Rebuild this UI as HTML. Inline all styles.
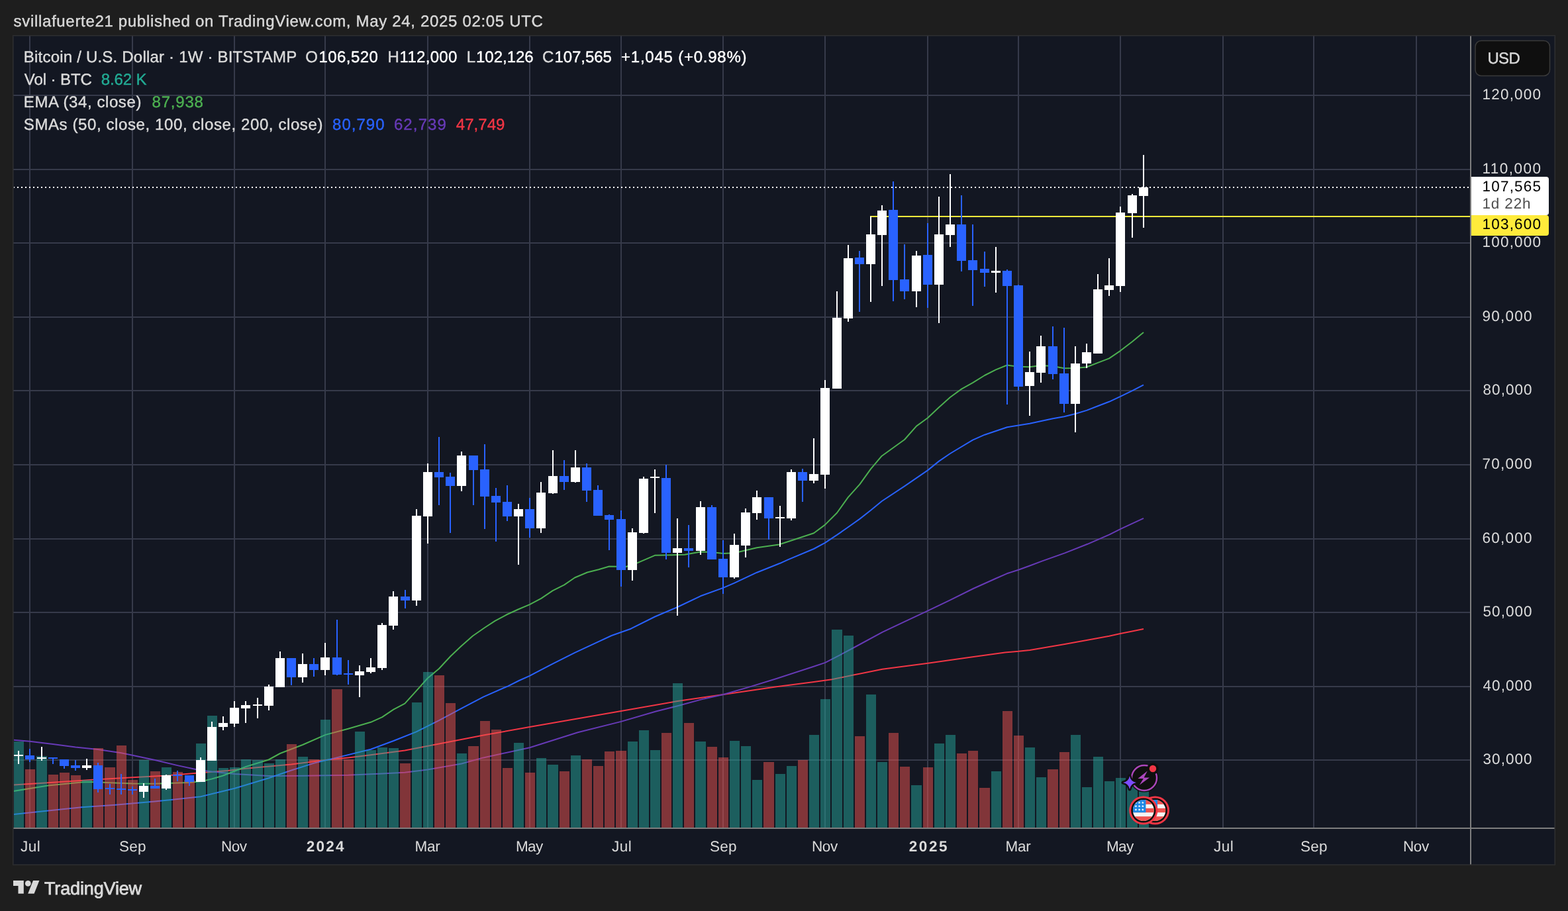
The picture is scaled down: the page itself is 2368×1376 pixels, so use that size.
<!DOCTYPE html>
<html lang="en"><head><meta charset="utf-8"><title>BTCUSD 1W chart — TradingView</title>
<style>
html,body{margin:0;padding:0;background:#1e1e1e;width:2368px;height:1376px;overflow:hidden}
svg{display:block;font-family:"Liberation Sans",Arial,sans-serif}
text{white-space:pre}
</style></head><body>
<svg width="2368" height="1376" viewBox="0 0 2368 1376" shape-rendering="crispEdges">
<defs><clipPath id="cp"><rect x="21" y="55" width="2199" height="1195"/></clipPath>
<clipPath id="f1"><circle cx="1726.8" cy="1224" r="16"/></clipPath>
<clipPath id="f2"><circle cx="1744.4" cy="1224" r="16"/></clipPath></defs>
<rect width="2368" height="1376" fill="#1e1e1e"/>
<rect x="19" y="53" width="2330" height="1254" fill="#2e2e30"/>
<rect x="20" y="54" width="2328" height="1252" fill="#131722"/>
<path d="M44 54h2v1196h-2zM199 54h2v1196h-2zM353 54h2v1196h-2zM490 54h2v1196h-2zM645 54h2v1196h-2zM799 54h2v1196h-2zM937 54h2v1196h-2zM1091 54h2v1196h-2zM1245 54h2v1196h-2zM1400 54h2v1196h-2zM1537 54h2v1196h-2zM1691 54h2v1196h-2zM1846 54h2v1196h-2zM1983 54h2v1196h-2zM2138 54h2v1196h-2zM20 143h2200v2h-2200zM20 255h2200v2h-2200zM20 366h2200v2h-2200zM20 478h2200v2h-2200zM20 589h2200v2h-2200zM20 701h2200v2h-2200zM20 813h2200v2h-2200zM20 924h2200v2h-2200zM20 1036h2200v2h-2200zM20 1147h2200v2h-2200z" fill="#363a4a"/>
<g clip-path="url(#cp)" shape-rendering="geometricPrecision">
<polyline points="19.6,1185.5 72.7,1182.3 148.0,1177.2 200.0,1174.3 251.0,1171.4 296.5,1167.7 344.0,1164.1 371.4,1160.8 440.0,1154.4 491.5,1148.0 525.8,1144.4 560.0,1140.2 611.4,1133.5 663.0,1123.5 730.0,1110.4 799.9,1098.1 938.0,1074.1 1023.3,1059.0 1092.4,1049.0 1130.0,1043.6 1172.7,1037.2 1227.2,1030.3 1256.2,1026.3 1288.9,1019.6 1332.5,1010.8 1401.5,1001.8 1463.3,993.0 1517.8,985.4 1538.0,983.8 1555.2,982.0 1607.9,972.9 1642.4,966.7 1675.1,960.7 1692.0,957.1 1709.7,953.5 1727.0,950.1" fill="none" stroke="#f23645" stroke-width="2" stroke-linejoin="round"/>
<polyline points="19.6,1117.6 45.0,1119.8 80.0,1124.1 114.0,1128.5 148.0,1132.1 183.0,1137.2 200.0,1140.8 234.0,1148.1 268.0,1156.1 296.5,1162.2 320.0,1165.6 354.5,1168.9 405.7,1172.0 457.0,1171.7 525.8,1170.8 577.2,1168.6 611.4,1166.8 645.7,1162.6 697.1,1153.5 730.0,1144.4 799.9,1129.3 872.6,1106.3 938.0,1089.9 990.6,1074.5 1023.3,1066.3 1063.3,1055.4 1092.4,1049.0 1130.0,1038.1 1172.7,1025.0 1227.2,1007.2 1246.2,1000.9 1272.6,987.2 1288.9,978.5 1332.5,954.9 1366.3,938.9 1401.0,922.6 1435.4,906.2 1469.9,889.0 1504.4,873.5 1520.7,866.3 1538.0,860.8 1555.2,854.5 1573.4,847.6 1607.9,835.4 1642.4,821.8 1675.1,807.6 1692.0,799.1 1709.7,790.9 1727.0,782.8" fill="none" stroke="#673ab7" stroke-width="2" stroke-linejoin="round"/>
<polyline points="19.6,1230.2 72.7,1224.4 123.5,1219.3 174.4,1215.7 234.0,1210.6 303.0,1203.3 354.5,1190.7 405.7,1175.3 440.0,1163.5 474.4,1152.6 508.5,1144.4 560.0,1131.7 594.3,1119.0 628.6,1105.4 663.0,1088.1 697.1,1069.9 730.0,1052.7 767.2,1036.3 783.8,1028.0 799.8,1020.8 834.7,1002.6 868.0,985.9 904.0,969.2 923.6,960.0 952.7,949.7 989.0,931.5 1023.0,917.0 1058.0,900.3 1092.2,887.9 1109.0,880.6 1143.0,864.7 1178.0,850.8 1190.0,845.4 1229.0,829.0 1246.0,819.8 1264.1,807.9 1280.8,796.3 1298.3,783.9 1315.0,770.8 1331.7,757.0 1366.0,734.4 1401.0,710.4 1418.0,696.6 1435.0,685.0 1469.0,664.7 1487.0,656.7 1521.0,645.3 1555.0,639.8 1590.0,632.2 1607.0,629.3 1624.0,625.0 1641.0,619.9 1658.0,613.3 1675.0,606.8 1692.0,598.8 1710.0,590.1 1727.0,581.4" fill="none" stroke="#2962ff" stroke-width="2" stroke-linejoin="round"/>
<polyline points="19.6,1195.1 72.7,1186.6 123.5,1181.5 138.0,1181.1 166.1,1182.3 200.1,1183.4 234.0,1183.7 285.9,1182.0 305.2,1180.1 320.0,1176.5 336.3,1171.7 371.4,1158.0 405.7,1147.5 423.0,1138.0 457.0,1125.0 491.5,1109.9 525.8,1100.8 560.0,1090.8 577.2,1083.2 594.3,1071.7 611.4,1062.7 628.6,1043.6 645.7,1024.5 663.0,1010.0 680.6,991.0 697.0,975.5 714.0,960.5 732.0,948.0 747.5,937.9 766.0,928.0 782.4,920.5 799.8,913.2 817.3,903.8 834.7,892.2 852.2,883.4 868.0,872.5 887.0,864.5 904.0,860.2 920.0,855.5 945.4,856.0 962.8,850.1 989.0,838.8 1034.0,837.8 1058.0,833.4 1075.0,834.1 1092.2,835.9 1109.0,835.3 1126.0,831.2 1143.0,827.2 1176.5,822.5 1195.0,816.5 1229.0,805.3 1246.0,792.6 1264.1,774.5 1280.8,751.2 1298.3,731.6 1315.0,708.3 1331.7,688.7 1349.0,676.3 1366.0,664.0 1384.0,643.6 1401.0,631.2 1418.0,615.2 1435.0,600.0 1452.0,587.6 1469.0,578.2 1487.0,567.0 1504.0,558.4 1521.0,551.5 1538.0,553.8 1555.0,554.2 1572.0,551.9 1590.0,553.0 1607.0,556.2 1624.0,555.9 1641.0,554.5 1658.0,547.9 1675.0,541.4 1692.0,529.8 1710.0,516.0 1727.0,501.9" fill="none" stroke="#4caf50" stroke-width="2" stroke-linejoin="round"/>
</g>
<path d="M21 1120h15V1250h-15zM55 1142h16V1250h-16zM124 1178h15V1250h-15zM210 1148h15V1250h-15zM244 1159h15V1250h-15zM296 1123h15V1250h-15zM313 1081h15V1250h-15zM330 1160h15V1250h-15zM347 1159h15V1250h-15zM364 1147h15V1250h-15zM381 1148h16V1250h-16zM399 1153h15V1250h-15zM416 1147h15V1250h-15zM450 1143h15V1250h-15zM484 1087h15V1250h-15zM536 1105h15V1250h-15zM553 1133h15V1250h-15zM570 1129h15V1250h-15zM587 1130h15V1250h-15zM622 1061h15V1250h-15zM639 1015h15V1250h-15zM690 1138h15V1250h-15zM776 1122h15V1250h-15zM810 1145h15V1250h-15zM827 1155h16V1250h-16zM862 1141h15V1250h-15zM948 1120h15V1250h-15zM965 1103h15V1250h-15zM982 1133h15V1250h-15zM1016 1032h15V1250h-15zM1050 1120h16V1250h-16zM1102 1119h15V1250h-15zM1119 1127h15V1250h-15zM1136 1178h15V1250h-15zM1171 1169h15V1250h-15zM1188 1157h15V1250h-15zM1222 1110h15V1250h-15zM1239 1056h15V1250h-15zM1256 951h16V1250h-16zM1274 960h15V1250h-15zM1308 1049h15V1250h-15zM1325 1151h15V1250h-15zM1376 1186h16V1250h-16zM1411 1123h15V1250h-15zM1428 1110h15V1250h-15zM1497 1165h15V1250h-15zM1548 1129h15V1250h-15zM1565 1174h15V1250h-15zM1617 1110h15V1250h-15zM1634 1189h15V1250h-15zM1651 1143h15V1250h-15zM1668 1180h15V1250h-15zM1685 1175h15V1250h-15zM1702 1186h16V1250h-16zM1720 1192h15V1250h-15z" fill="#26a69a" fill-opacity=".5"/>
<path d="M38 1162h15V1250h-15zM73 1170h15V1250h-15zM90 1167h15V1250h-15zM107 1171h15V1250h-15zM141 1130h15V1250h-15zM158 1159h16V1250h-16zM176 1126h15V1250h-15zM193 1178h15V1250h-15zM227 1165h15V1250h-15zM261 1166h15V1250h-15zM278 1178h16V1250h-16zM433 1124h15V1250h-15zM467 1147h15V1250h-15zM501 1041h16V1250h-16zM519 1147h15V1250h-15zM604 1153h16V1250h-16zM656 1020h15V1250h-15zM673 1062h15V1250h-15zM707 1127h16V1250h-16zM725 1089h15V1250h-15zM742 1102h15V1250h-15zM759 1160h15V1250h-15zM793 1167h15V1250h-15zM845 1165h15V1250h-15zM879 1147h15V1250h-15zM896 1157h15V1250h-15zM913 1135h15V1250h-15zM930 1134h16V1250h-16zM999 1107h15V1250h-15zM1033 1092h15V1250h-15zM1068 1128h15V1250h-15zM1085 1144h15V1250h-15zM1153 1151h16V1250h-16zM1205 1148h15V1250h-15zM1291 1112h15V1250h-15zM1342 1107h15V1250h-15zM1359 1158h15V1250h-15zM1394 1159h15V1250h-15zM1445 1138h15V1250h-15zM1462 1134h15V1250h-15zM1479 1190h16V1250h-16zM1514 1074h15V1250h-15zM1531 1111h15V1250h-15zM1582 1162h16V1250h-16zM1600 1136h15V1250h-15z" fill="#ef5350" fill-opacity=".5"/>
<rect x="1314" y="326" width="906" height="2" fill="#ffeb3b"/>
<path d="M44 1131h2V1151h-2zM38 1141h14V1147h-14zM79 1144h2V1154h-2zM73 1144h14V1146h-14zM96 1147h2V1161h-2zM90 1147h14V1157h-14zM113 1148h2V1164h-2zM107 1156h14V1160h-14zM147 1152h2V1197h-2zM141 1156h14V1192h-14zM165 1184h2V1200h-2zM159 1190h14V1192h-14zM182 1169h2V1200h-2zM176 1191h14V1193h-14zM199 1188h2V1200h-2zM193 1192h14V1194h-14zM233 1176h2V1191h-2zM227 1187h14V1191h-14zM267 1164h2V1180h-2zM261 1170h14V1172h-14zM285 1171h2V1187h-2zM279 1171h14V1181h-14zM439 994h2V1035h-2zM433 994h14V1023h-14zM473 994h2V1022h-2zM467 1003h14V1012h-14zM508 936h2V1020h-2zM502 993h14V1019h-14zM525 997h2V1034h-2zM519 1017h14V1019h-14zM611 891h2V919h-2zM605 901h14V907h-14zM662 660h2V763h-2zM656 713h14V721h-14zM679 714h2V805h-2zM673 720h14V734h-14zM714 688h2V763h-2zM708 688h14V710h-14zM731 671h2V799h-2zM725 709h14V750h-14zM748 737h2V818h-2zM742 749h14V759h-14zM765 733h2V787h-2zM759 758h14V780h-14zM799 752h2V812h-2zM793 769h14V798h-14zM851 695h2V740h-2zM845 719h14V728h-14zM885 700h2V758h-2zM879 706h14V741h-14zM902 733h2V779h-2zM896 740h14V779h-14zM919 777h2V831h-2zM913 778h14V785h-14zM937 771h2V886h-2zM931 784h14V861h-14zM1005 702h2V845h-2zM999 722h14V835h-14zM1039 793h2V857h-2zM1033 828h14V832h-14zM1074 763h2V845h-2zM1068 766h14V845h-14zM1091 816h2V897h-2zM1085 844h14V872h-14zM1160 751h2V815h-2zM1154 751h14V783h-14zM1211 708h2V758h-2zM1205 713h14V726h-14zM1297 379h2V471h-2zM1291 389h14V399h-14zM1348 274h2V455h-2zM1342 317h14V423h-14zM1365 369h2V452h-2zM1359 422h14V440h-14zM1400 337h2V465h-2zM1394 385h14V430h-14zM1451 295h2V410h-2zM1445 339h14V394h-14zM1468 339h2V462h-2zM1462 393h14V408h-14zM1486 380h2V433h-2zM1480 406h14V412h-14zM1520 407h2V611h-2zM1514 409h14V432h-14zM1537 430h2V590h-2zM1531 431h14V584h-14zM1589 493h2V573h-2zM1583 523h14V565h-14zM1606 495h2V623h-2zM1600 564h14V610h-14z" fill="#2962ff"/>
<path d="M27 1134h2V1154h-2zM21 1140h14V1142h-14zM62 1128h2V1149h-2zM56 1144h14V1146h-14zM130 1146h2V1163h-2zM124 1156h14V1160h-14zM216 1183h2V1205h-2zM210 1187h14V1196h-14zM250 1170h2V1193h-2zM244 1171h14V1191h-14zM302 1144h2V1181h-2zM296 1148h14V1181h-14zM319 1090h2V1149h-2zM313 1098h14V1149h-14zM336 1082h2V1103h-2zM330 1092h14V1098h-14zM353 1059h2V1098h-2zM347 1069h14V1093h-14zM370 1059h2V1092h-2zM364 1065h14V1070h-14zM388 1054h2V1085h-2zM382 1064h14V1066h-14zM405 1034h2V1073h-2zM399 1037h14V1066h-14zM422 984h2V1038h-2zM416 994h14V1038h-14zM456 987h2V1031h-2zM450 1003h14V1023h-14zM490 971h2V1020h-2zM484 993h14V1012h-14zM542 1005h2V1053h-2zM536 1014h14V1020h-14zM559 994h2V1017h-2zM553 1008h14V1015h-14zM576 941h2V1012h-2zM570 944h14V1009h-14zM593 893h2V951h-2zM587 901h14V945h-14zM628 769h2V915h-2zM622 779h14V907h-14zM645 700h2V821h-2zM639 713h14V780h-14zM696 682h2V742h-2zM690 688h14V734h-14zM782 761h2V853h-2zM776 769h14V780h-14zM816 728h2V805h-2zM810 744h14V798h-14zM834 680h2V746h-2zM828 719h14V745h-14zM868 680h2V729h-2zM862 706h14V728h-14zM954 798h2V877h-2zM948 804h14V861h-14zM971 720h2V806h-2zM965 723h14V805h-14zM988 709h2V775h-2zM982 720h14V722h-14zM1022 783h2V930h-2zM1016 828h14V835h-14zM1057 757h2V838h-2zM1051 766h14V832h-14zM1108 806h2V874h-2zM1102 823h14V872h-14zM1125 768h2V842h-2zM1119 774h14V824h-14zM1142 741h2V785h-2zM1136 751h14V775h-14zM1177 764h2V826h-2zM1171 781h14V783h-14zM1194 709h2V786h-2zM1188 713h14V783h-14zM1228 662h2V730h-2zM1222 716h14V726h-14zM1245 574h2V738h-2zM1239 586h14V717h-14zM1263 440h2V587h-2zM1257 480h14V587h-14zM1280 370h2V486h-2zM1274 390h14V481h-14zM1314 327h2V456h-2zM1308 354h14V399h-14zM1331 310h2V432h-2zM1325 318h14V355h-14zM1383 379h2V464h-2zM1377 386h14V440h-14zM1417 297h2V488h-2zM1411 354h14V430h-14zM1434 263h2V373h-2zM1428 339h14V355h-14zM1503 373h2V442h-2zM1497 409h14V412h-14zM1554 531h2V628h-2zM1548 562h14V583h-14zM1571 507h2V578h-2zM1565 523h14V563h-14zM1623 523h2V653h-2zM1617 549h14V610h-14zM1640 519h2V556h-2zM1634 532h14V549h-14zM1657 414h2V534h-2zM1651 437h14V534h-14zM1674 390h2V447h-2zM1668 431h14V438h-14zM1691 312h2V441h-2zM1685 321h14V432h-14zM1709 293h2V359h-2zM1703 295h14V322h-14zM1726 234h2V344h-2zM1720 283h14V296h-14z" fill="#ffffff"/>
<path d="M21 282h1v2h-1z" fill="#fff"/><path d="M26 283H2220" stroke="#fff" stroke-width="2" stroke-dasharray="2 4" fill="none"/>
<rect x="20" y="1250" width="2328" height="2" fill="#7e7e7e"/>
<rect x="2220" y="54" width="2" height="1252" fill="#7e7e7e"/>
<path d="M20 54h2328v1252h-2328zM21 55v1250h2326v-1250z" fill="#2e2e30" fill-opacity=".55" fill-rule="evenodd"/>
<path d="M2222 267h113a4 4 0 0 1 4 4v50a4 4 0 0 1-4 4h-113z" fill="#fff" shape-rendering="geometricPrecision"/>
<path d="M2222 325h113a4 4 0 0 1 4 4v23a4 4 0 0 1-4 4h-113z" fill="#ffeb3b" shape-rendering="geometricPrecision"/>
<rect x="2228" y="61.5" width="112.5" height="53" rx="9" fill="#0f0f0f" stroke="#3a3a3a" stroke-width="1.5" shape-rendering="geometricPrecision"/>
<g shape-rendering="geometricPrecision">
<circle cx="1728" cy="1175" r="21.6" fill="#0f0f0f"/>
<circle cx="1728" cy="1175" r="19" fill="none" stroke="#ab47bc" stroke-width="2.4"/>
<path d="M1732.8 1164.5l-14.4 11.6h8.4l-6 9.6 15.2-11.2h-8.4z" fill="#ab47bc"/>
<circle cx="1741" cy="1161" r="8.8" fill="#0f0f0f"/>
<circle cx="1741" cy="1161" r="5.2" fill="#f23645"/>
<path d="M1706 1172q1.5 8.5 10 10q-8.5 1.5-10 10q-1.5-8.5-10-10q8.5-1.5 10-10z" fill="#7c4dff" stroke="#0f0f0f" stroke-width="5" paint-order="stroke" stroke-linejoin="round"/>
</g>
<g shape-rendering="geometricPrecision">
<circle cx="1744.4" cy="1224" r="21.6" fill="#f23645"/>
<circle cx="1744.4" cy="1224" r="18.6" fill="#0f0f0f"/>
<g clip-path="url(#f2)">
<rect x="1728.4" y="1208" width="32" height="32" fill="#f5f5f5"/>
<rect x="1728.4" y="1208" width="32" height="6.8" fill="#ef5350"/>
<rect x="1728.4" y="1220.8" width="32" height="6.4" fill="#ef5350"/>
<rect x="1728.4" y="1233.2" width="32" height="6.8" fill="#ef5350"/>
<rect x="1728.4" y="1208" width="19.6" height="19.2" fill="#1e88e5"/>
<path d="M1733.00 1210.30L1733.53 1211.67L1735.00 1211.75L1733.86 1212.68L1734.23 1214.10L1733.00 1213.30L1731.77 1214.10L1732.14 1212.68L1731.00 1211.75L1732.47 1211.67zM1733.00 1215.60L1733.53 1216.97L1735.00 1217.05L1733.86 1217.98L1734.23 1219.40L1733.00 1218.60L1731.77 1219.40L1732.14 1217.98L1731.00 1217.05L1732.47 1216.97zM1733.00 1220.90L1733.53 1222.27L1735.00 1222.35L1733.86 1223.28L1734.23 1224.70L1733.00 1223.90L1731.77 1224.70L1732.14 1223.28L1731.00 1222.35L1732.47 1222.27zM1738.20 1210.30L1738.73 1211.67L1740.20 1211.75L1739.06 1212.68L1739.43 1214.10L1738.20 1213.30L1736.97 1214.10L1737.34 1212.68L1736.20 1211.75L1737.67 1211.67zM1738.20 1215.60L1738.73 1216.97L1740.20 1217.05L1739.06 1217.98L1739.43 1219.40L1738.20 1218.60L1736.97 1219.40L1737.34 1217.98L1736.20 1217.05L1737.67 1216.97zM1738.20 1220.90L1738.73 1222.27L1740.20 1222.35L1739.06 1223.28L1739.43 1224.70L1738.20 1223.90L1736.97 1224.70L1737.34 1223.28L1736.20 1222.35L1737.67 1222.27zM1743.40 1210.30L1743.93 1211.67L1745.40 1211.75L1744.26 1212.68L1744.63 1214.10L1743.40 1213.30L1742.17 1214.10L1742.54 1212.68L1741.40 1211.75L1742.87 1211.67zM1743.40 1215.60L1743.93 1216.97L1745.40 1217.05L1744.26 1217.98L1744.63 1219.40L1743.40 1218.60L1742.17 1219.40L1742.54 1217.98L1741.40 1217.05L1742.87 1216.97zM1743.40 1220.90L1743.93 1222.27L1745.40 1222.35L1744.26 1223.28L1744.63 1224.70L1743.40 1223.90L1742.17 1224.70L1742.54 1223.28L1741.40 1222.35L1742.87 1222.27z" fill="#fff"/>
</g></g>
<g shape-rendering="geometricPrecision">
<circle cx="1726.8" cy="1224" r="21.6" fill="#f23645"/>
<circle cx="1726.8" cy="1224" r="18.6" fill="#0f0f0f"/>
<g clip-path="url(#f1)">
<rect x="1710.8" y="1208" width="32" height="32" fill="#f5f5f5"/>
<rect x="1710.8" y="1208" width="32" height="6.8" fill="#ef5350"/>
<rect x="1710.8" y="1220.8" width="32" height="6.4" fill="#ef5350"/>
<rect x="1710.8" y="1233.2" width="32" height="6.8" fill="#ef5350"/>
<rect x="1710.8" y="1208" width="19.6" height="19.2" fill="#1e88e5"/>
<path d="M1715.40 1210.30L1715.93 1211.67L1717.40 1211.75L1716.26 1212.68L1716.63 1214.10L1715.40 1213.30L1714.17 1214.10L1714.54 1212.68L1713.40 1211.75L1714.87 1211.67zM1715.40 1215.60L1715.93 1216.97L1717.40 1217.05L1716.26 1217.98L1716.63 1219.40L1715.40 1218.60L1714.17 1219.40L1714.54 1217.98L1713.40 1217.05L1714.87 1216.97zM1715.40 1220.90L1715.93 1222.27L1717.40 1222.35L1716.26 1223.28L1716.63 1224.70L1715.40 1223.90L1714.17 1224.70L1714.54 1223.28L1713.40 1222.35L1714.87 1222.27zM1720.60 1210.30L1721.13 1211.67L1722.60 1211.75L1721.46 1212.68L1721.83 1214.10L1720.60 1213.30L1719.37 1214.10L1719.74 1212.68L1718.60 1211.75L1720.07 1211.67zM1720.60 1215.60L1721.13 1216.97L1722.60 1217.05L1721.46 1217.98L1721.83 1219.40L1720.60 1218.60L1719.37 1219.40L1719.74 1217.98L1718.60 1217.05L1720.07 1216.97zM1720.60 1220.90L1721.13 1222.27L1722.60 1222.35L1721.46 1223.28L1721.83 1224.70L1720.60 1223.90L1719.37 1224.70L1719.74 1223.28L1718.60 1222.35L1720.07 1222.27zM1725.80 1210.30L1726.33 1211.67L1727.80 1211.75L1726.66 1212.68L1727.03 1214.10L1725.80 1213.30L1724.57 1214.10L1724.94 1212.68L1723.80 1211.75L1725.27 1211.67zM1725.80 1215.60L1726.33 1216.97L1727.80 1217.05L1726.66 1217.98L1727.03 1219.40L1725.80 1218.60L1724.57 1219.40L1724.94 1217.98L1723.80 1217.05L1725.27 1216.97zM1725.80 1220.90L1726.33 1222.27L1727.80 1222.35L1726.66 1223.28L1727.03 1224.70L1725.80 1223.90L1724.57 1224.70L1724.94 1223.28L1723.80 1222.35L1725.27 1222.27z" fill="#fff"/>
</g></g>
<g shape-rendering="geometricPrecision"><path d="M20 1330h15.8v19.8h-8.3v-11.8H20zM50 1330h9.4l-7.8 19.8h-9.4z" fill="#d9d9d9"/><circle cx="42.3" cy="1334.4" r="4.4" fill="#d9d9d9"/></g>
<g shape-rendering="auto" text-rendering="geometricPrecision">
<text x="20.6" y="40.2" style="font-size:24px;letter-spacing:0.676px;fill:#d9d9d9;stroke:#d9d9d9;stroke-width:0.4px">svillafuerte21 published on TradingView.com, May 24, 2025 02:05 UTC</text>
<text x="35.8" y="93.8" style="font-size:24px;letter-spacing:0.207px;fill:#dbdbdb;stroke:#dbdbdb;stroke-width:0.4px">Bitcoin / U.S. Dollar · 1W · BITSTAMP</text>
<text x="461.3" y="93.8" style="font-size:24px;letter-spacing:0.000px;fill:#dbdbdb;stroke:#dbdbdb;stroke-width:0.4px">O</text>
<text x="481.5" y="93.8" style="font-size:24px;letter-spacing:0.432px;fill:#fff;stroke:#fff;stroke-width:0.4px">106,520</text>
<text x="585.4" y="93.8" style="font-size:24px;letter-spacing:0.000px;fill:#dbdbdb;stroke:#dbdbdb;stroke-width:0.4px">H</text>
<text x="603.5" y="93.8" style="font-size:24px;letter-spacing:0.312px;fill:#fff;stroke:#fff;stroke-width:0.4px">112,000</text>
<text x="704.7" y="93.8" style="font-size:24px;letter-spacing:0.000px;fill:#dbdbdb;stroke:#dbdbdb;stroke-width:0.4px">L</text>
<text x="719.0" y="93.8" style="font-size:24px;letter-spacing:-0.018px;fill:#fff;stroke:#fff;stroke-width:0.4px">102,126</text>
<text x="819.0" y="93.8" style="font-size:24px;letter-spacing:0.000px;fill:#dbdbdb;stroke:#dbdbdb;stroke-width:0.4px">C</text>
<text x="837.5" y="93.8" style="font-size:24px;letter-spacing:-0.068px;fill:#fff;stroke:#fff;stroke-width:0.4px">107,565</text>
<text x="938.0" y="93.8" style="font-size:24px;letter-spacing:0.771px;fill:#fff;stroke:#fff;stroke-width:0.4px">+1,045 (+0.98%)</text>
<text x="36.8" y="127.9" style="font-size:24px;letter-spacing:-0.082px;fill:#dbdbdb;stroke:#dbdbdb;stroke-width:0.4px">Vol · BTC</text>
<text x="152.7" y="127.9" style="font-size:24px;letter-spacing:-0.096px;fill:#22ab94;stroke:#22ab94;stroke-width:0.4px">8.62 K</text>
<text x="35.8" y="162.2" style="font-size:24px;letter-spacing:0.584px;fill:#dbdbdb;stroke:#dbdbdb;stroke-width:0.4px">EMA (34, close)</text>
<text x="229.6" y="162.2" style="font-size:24px;letter-spacing:0.788px;fill:#4caf50;stroke:#4caf50;stroke-width:0.4px">87,938</text>
<text x="35.8" y="196.0" style="font-size:24px;letter-spacing:0.600px;fill:#dbdbdb;stroke:#dbdbdb;stroke-width:0.4px">SMAs (50, close, 100, close, 200, close)</text>
<text x="502.0" y="196.0" style="font-size:24px;letter-spacing:1.028px;fill:#2962ff;stroke:#2962ff;stroke-width:0.4px">80,790</text>
<text x="594.9" y="196.0" style="font-size:24px;letter-spacing:1.128px;fill:#673ab7;stroke:#673ab7;stroke-width:0.4px">62,739</text>
<text x="688.8" y="196.0" style="font-size:24px;letter-spacing:0.048px;fill:#f23645;stroke:#f23645;stroke-width:0.4px">47,749</text>
<text x="2238.5" y="150.0" style="font-size:22.5px;letter-spacing:1.197px;fill:#dbdbdb">120,000</text>
<text x="2238.5" y="262.0" style="font-size:22.5px;letter-spacing:1.475px;fill:#dbdbdb">110,000</text>
<text x="2238.5" y="373.0" style="font-size:22.5px;letter-spacing:1.197px;fill:#dbdbdb">100,000</text>
<text x="2238.5" y="485.0" style="font-size:22.5px;letter-spacing:1.259px;fill:#dbdbdb">90,000</text>
<text x="2239.5" y="596.0" style="font-size:22.5px;letter-spacing:1.059px;fill:#dbdbdb">80,000</text>
<text x="2238.5" y="708.0" style="font-size:22.5px;letter-spacing:1.259px;fill:#dbdbdb">70,000</text>
<text x="2238.5" y="820.0" style="font-size:22.5px;letter-spacing:1.259px;fill:#dbdbdb">60,000</text>
<text x="2239.5" y="931.0" style="font-size:22.5px;letter-spacing:1.059px;fill:#dbdbdb">50,000</text>
<text x="2239.5" y="1043.0" style="font-size:22.5px;letter-spacing:1.059px;fill:#dbdbdb">40,000</text>
<text x="2239.5" y="1154.0" style="font-size:22.5px;letter-spacing:1.059px;fill:#dbdbdb">30,000</text>
<text x="2246.4" y="96.2" style="font-size:24px;letter-spacing:-0.670px;fill:#d9d9d9;stroke:#d9d9d9;stroke-width:0.4px">USD</text>
<text x="2238.5" y="288.7" style="font-size:22.5px;letter-spacing:1.197px;fill:#000">107,565</text>
<text x="2238.5" y="315.0" style="font-size:22.5px;letter-spacing:0.839px;fill:#4d4d4d">1d 22h</text>
<text x="2238.5" y="346.0" style="font-size:22.5px;letter-spacing:1.197px;fill:#000">103,600</text>
<text x="31.0" y="1286.0" style="font-size:22.5px;letter-spacing:0.518px;fill:#dbdbdb">Jul</text>
<text x="180.0" y="1286.0" style="font-size:22.5px;letter-spacing:0.190px;fill:#dbdbdb">Sep</text>
<text x="333.9" y="1286.0" style="font-size:22.5px;letter-spacing:-0.431px;fill:#dbdbdb">Nov</text>
<text x="462.8" y="1286.0" style="font-size:22.5px;letter-spacing:2.220px;fill:#dbdbdb;font-weight:700">2024</text>
<text x="626.6" y="1286.0" style="font-size:22.5px;letter-spacing:-0.328px;fill:#dbdbdb">Mar</text>
<text x="778.9" y="1286.0" style="font-size:22.5px;letter-spacing:-0.628px;fill:#dbdbdb">May</text>
<text x="924.0" y="1286.0" style="font-size:22.5px;letter-spacing:0.518px;fill:#dbdbdb">Jul</text>
<text x="1072.0" y="1286.0" style="font-size:22.5px;letter-spacing:0.190px;fill:#dbdbdb">Sep</text>
<text x="1226.0" y="1286.0" style="font-size:22.5px;letter-spacing:-0.431px;fill:#dbdbdb">Nov</text>
<text x="1372.8" y="1286.0" style="font-size:22.5px;letter-spacing:2.553px;fill:#dbdbdb;font-weight:700">2025</text>
<text x="1518.6" y="1286.0" style="font-size:22.5px;letter-spacing:-0.328px;fill:#dbdbdb">Mar</text>
<text x="1670.9" y="1286.0" style="font-size:22.5px;letter-spacing:-0.628px;fill:#dbdbdb">May</text>
<text x="1833.0" y="1286.0" style="font-size:22.5px;letter-spacing:0.518px;fill:#dbdbdb">Jul</text>
<text x="1964.0" y="1286.0" style="font-size:22.5px;letter-spacing:0.190px;fill:#dbdbdb">Sep</text>
<text x="2119.0" y="1286.0" style="font-size:22.5px;letter-spacing:-0.431px;fill:#dbdbdb">Nov</text>
<text x="67.0" y="1351.3" style="font-size:27px;letter-spacing:-0.148px;fill:#d9d9d9;stroke:#d9d9d9;stroke-width:0.8px">TradingView</text>
</g>
</svg>
</body></html>
